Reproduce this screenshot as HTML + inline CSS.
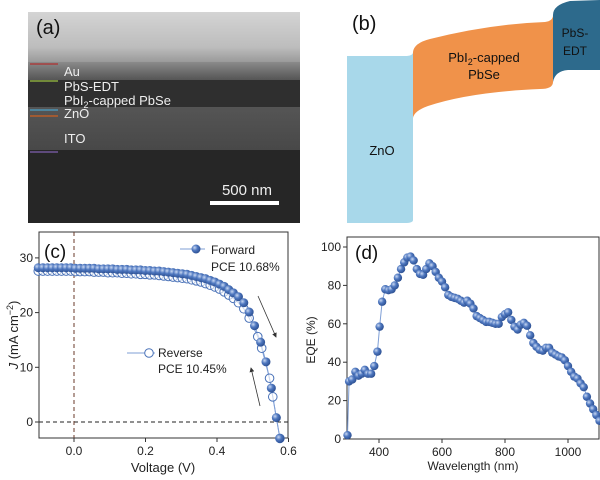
<!DOCTYPE html>
<html><head><meta charset="utf-8"><style>
html,body{margin:0;padding:0;background:#fff;}
svg{display:block;font-family:"Liberation Sans",Arial,sans-serif;}
</style></head><body>
<svg id="fig" width="600" height="480" viewBox="0 0 600 480">
<defs>
<linearGradient id="semTop" x1="0" y1="0" x2="0" y2="1"><stop offset="0" stop-color="#d4d4d4"/><stop offset="0.7" stop-color="#bdbdbd"/><stop offset="1" stop-color="#9a9a9a"/></linearGradient>
<linearGradient id="semAu" x1="0" y1="0" x2="0" y2="1"><stop offset="0" stop-color="#8a8a8a"/><stop offset="1" stop-color="#555"/></linearGradient>
<linearGradient id="semMid" x1="0" y1="0" x2="0" y2="1"><stop offset="0" stop-color="#555"/><stop offset="1" stop-color="#484848"/></linearGradient>
<radialGradient id="ball" cx="0.35" cy="0.35" r="0.7"><stop offset="0" stop-color="#c9d8f2"/><stop offset="0.45" stop-color="#4f78c0"/><stop offset="1" stop-color="#2a4d8f"/></radialGradient>
<marker id="ah" markerWidth="6" markerHeight="6" refX="5" refY="3" orient="auto"><path d="M0,0 L6,3 L0,6 z" fill="#333"/></marker>
</defs>

<!-- Panel a: SEM -->
<g>
<rect x="28" y="12" width="272" height="50" fill="url(#semTop)"/>
<rect x="28" y="62" width="272" height="18" fill="url(#semAu)"/>
<rect x="28" y="80" width="272" height="27" fill="#2f2f2f"/>
<rect x="28" y="107" width="272" height="43" fill="url(#semMid)"/>
<rect x="28" y="150" width="272" height="73" fill="#262626"/>
<text x="36" y="34" font-size="20" fill="#111">(a)</text>
<line x1="30" y1="64" x2="58" y2="64" stroke="#b03030" stroke-width="1.2"/>
<line x1="30" y1="81" x2="58" y2="81" stroke="#9bc040" stroke-width="1.2"/>
<line x1="30" y1="110" x2="58" y2="110" stroke="#4aa0c8" stroke-width="1.2"/>
<line x1="30" y1="116" x2="58" y2="116" stroke="#d06020" stroke-width="1.2"/>
<line x1="30" y1="152" x2="58" y2="152" stroke="#8060b0" stroke-width="1.2"/>
<g fill="#eee" font-size="13">
<text x="64" y="76">Au</text>
<text x="64" y="91">PbS-EDT</text>
<text x="64" y="105">PbI<tspan font-size="9" dy="3">2</tspan><tspan dy="-3">-capped PbSe</tspan></text>
<text x="64" y="118">ZnO</text>
<text x="64" y="143">ITO</text>
<text x="247" y="195" font-size="15" text-anchor="middle">500 nm</text>
</g>
<rect x="210" y="201" width="69" height="4" fill="#fff"/>
</g>

<!-- Panel b -->
<g>
<text x="352" y="30" font-size="20" fill="#111">(b)</text>
<path d="M347,56 L405,56 Q413,56 413,52 L413,220 Q413,223 405,223 L347,223 Z" fill="#a8d8ea"/>
<path d="M413,52 Q414,43 430,39 Q490,24 545,22 Q553,21 553,15 L553,82 Q553,89 540,89 Q470,92 428,106 Q414,111 413,118 Z" fill="#f0924a"/>
<path d="M553,15 Q553,5 570,1 L600,0 L600,70 L568,70 Q555,71 553,82 Z" fill="#2d6a8c"/>
<text x="382" y="155" font-size="13" text-anchor="middle" fill="#111">ZnO</text>
<text x="484" y="62" font-size="13" text-anchor="middle" fill="#111">PbI<tspan font-size="9" dy="3">2</tspan><tspan dy="-3">-capped</tspan></text>
<text x="484" y="79" font-size="13" text-anchor="middle" fill="#111">PbSe</text>
<text x="575" y="37" font-size="12" text-anchor="middle" fill="#111">PbS-</text>
<text x="575" y="55" font-size="12" text-anchor="middle" fill="#111">EDT</text>
</g>

<g id="panelC"></g>
<g id="panelD"></g>
</svg>
<script>
const NS="http://www.w3.org/2000/svg";
const fwdV=[-0.1,-0.087,-0.074,-0.061,-0.048,-0.035,-0.022,-0.009,0.004,0.017,0.03,0.043,0.056,0.069,0.082,0.095,0.108,0.121,0.134,0.147,0.16,0.173,0.186,0.199,0.212,0.225,0.238,0.251,0.264,0.277,0.29,0.303,0.316,0.329,0.342,0.355,0.368,0.381,0.394,0.407,0.42,0.433,0.446,0.46,0.475,0.49,0.505,0.522,0.537,0.552,0.566,0.576];
const fwdJ=[28.2,28.2,28.2,28.2,28.2,28.2,28.2,28.2,28.1,28.1,28.1,28.1,28.1,28.0,28.0,28.0,28.0,27.9,27.9,27.9,27.8,27.8,27.8,27.7,27.7,27.6,27.6,27.5,27.4,27.3,27.2,27.1,27.0,26.8,26.6,26.4,26.2,25.9,25.6,25.2,24.8,24.2,23.6,22.9,21.8,20.1,17.6,14.6,11.0,6.2,0.8,-3.0];
const revV=[-0.1,-0.087,-0.074,-0.061,-0.048,-0.035,-0.022,-0.009,0.004,0.017,0.03,0.043,0.056,0.069,0.082,0.095,0.108,0.121,0.134,0.147,0.16,0.173,0.186,0.199,0.212,0.225,0.238,0.251,0.264,0.277,0.29,0.303,0.316,0.329,0.342,0.355,0.368,0.381,0.394,0.407,0.42,0.433,0.446,0.46,0.475,0.49,0.514,0.525,0.547,0.556,0.576];
const revJ=[27.6,27.6,27.6,27.6,27.6,27.6,27.6,27.6,27.5,27.5,27.5,27.5,27.4,27.4,27.4,27.3,27.3,27.3,27.2,27.2,27.1,27.1,27.0,27.0,26.9,26.9,26.8,26.7,26.6,26.5,26.4,26.3,26.2,26.0,25.8,25.6,25.3,25.0,24.7,24.3,23.8,23.2,22.6,21.8,20.7,19.0,15.6,13.5,8.0,4.6,-3.0];
const jvXTicks=[0.0,0.2,0.4,0.6];
const jvXLabels=["0.0","0.2","0.4","0.6"];
const jvYTicks=[0,10,20,30];
const wl=[300,305,315,325,335,345,355,365,375,385,395,402,410,420,430,440,450,460,470,480,490,500,510,520,530,540,550,560,570,580,590,600,610,620,630,640,650,660,670,680,690,700,710,720,730,740,750,760,770,780,790,800,810,820,830,840,850,860,870,880,890,900,910,920,930,940,950,960,970,980,990,1000,1010,1020,1030,1040,1050,1060,1070,1080,1090,1100];
const eqe=[2,30,31,35,33,34,36,34,34,38,45.5,58.5,71.5,78,77.5,78,80,84,88.5,92,94.5,95,93,88.5,86,85.5,88.5,91.5,90,87,84,82,79,75,74,73.5,73,72,71,72,70.5,68,64,63,62,61,61,60.5,60,60,63.5,65,66,62,58.5,57,59.5,60.5,59,54,50,48,46.5,46,47.5,47.5,45,44,43,42.5,41,38,35,32.5,31.5,29,27,22,18.5,15.5,12.5,9.5];
const eqeXTicks=[400,600,800,1000];
const eqeYTicks=[0,20,40,60,80,100];

function mk(parent,tag,attrs){const e=document.createElementNS(NS,tag);for(const k in attrs)e.setAttribute(k,attrs[k]);parent.appendChild(e);return e;}

// Panel C
const C=document.getElementById('panelC');
const cx0=39,cx1=288,cy0=232,cy1=438;
const vx=v=>74+v*357.5;
const jy=j=>422-j*5.47;
mk(C,'rect',{x:cx0,y:cy0,width:cx1-cx0,height:cy1-cy0,fill:'none',stroke:'#333','stroke-width':1});
mk(C,'line',{x1:cx0,y1:jy(0),x2:cx1,y2:jy(0),stroke:'#222','stroke-dasharray':'4,3','stroke-width':1});
mk(C,'line',{x1:vx(0),y1:cy0,x2:vx(0),y2:cy1,stroke:'#6a3a2a','stroke-dasharray':'4,3','stroke-width':1});
jvXTicks.forEach((t,i)=>{const x=vx(t);
 mk(C,'line',{x1:x,y1:cy1,x2:x,y2:cy1+4,stroke:'#333'});
 const tx=mk(C,'text',{x:x,y:cy1+17,'font-size':12,'text-anchor':'middle',fill:'#222'});tx.textContent=jvXLabels[i];
 
 });
jvYTicks.forEach(t=>{const y=jy(t);
 mk(C,'line',{x1:cx0-4,y1:y,x2:cx0,y2:y,stroke:'#333'});
 const tx=mk(C,'text',{x:cx0-6,y:y+4,'font-size':12,'text-anchor':'end',fill:'#222'});tx.textContent=t;
 
 });
mk(C,'polyline',{points:revV.map((v,i)=>vx(v)+','+jy(revJ[i])).join(' '),fill:'none',stroke:'#7f9fd6','stroke-width':1});
mk(C,'polyline',{points:fwdV.map((v,i)=>vx(v)+','+jy(fwdJ[i])).join(' '),fill:'none',stroke:'#7f9fd6','stroke-width':1});
revV.forEach((v,i)=>{const c=mk(C,'circle',{cx:vx(v),cy:jy(revJ[i]),r:4.3,fill:'#fff','fill-opacity':0.6,stroke:'#4a72b8','stroke-width':1});
 
 });
fwdV.forEach((v,i)=>{const c=mk(C,'circle',{cx:vx(v),cy:jy(fwdJ[i]),r:4.5,fill:'url(#ball)'});
 
 });
mk(C,'line',{x1:180,y1:249,x2:205,y2:249,stroke:'#7f9fd6'});
mk(C,'circle',{cx:196,cy:249,r:4.5,fill:'url(#ball)'});
let t;
t=mk(C,'text',{x:211,y:254,'font-size':12,fill:'#222'});t.textContent='Forward';
t=mk(C,'text',{x:211,y:271,'font-size':12,fill:'#222'});t.textContent='PCE 10.68%';
mk(C,'line',{x1:127,y1:353,x2:155,y2:353,stroke:'#7f9fd6'});
mk(C,'circle',{cx:149,cy:353,r:4.3,fill:'#fff',stroke:'#4a72b8'});
t=mk(C,'text',{x:158,y:357,'font-size':12,fill:'#222'});t.textContent='Reverse';
t=mk(C,'text',{x:158,y:373,'font-size':12,fill:'#222'});t.textContent='PCE 10.45%';
mk(C,'line',{x1:258,y1:296,x2:276,y2:337,stroke:'#333','stroke-width':0.8,'marker-end':'url(#ah)'});
mk(C,'line',{x1:260,y1:406,x2:251,y2:368,stroke:'#333','stroke-width':0.8,'marker-end':'url(#ah)'});
t=mk(C,'text',{x:44,y:258,'font-size':19,fill:'#111'});t.textContent='(c)';


t=mk(C,'text',{x:163,y:472,'font-size':13,'text-anchor':'middle',fill:'#222'});t.textContent='Voltage (V)';


t=mk(C,'text',{x:0,y:0,'font-size':13,'text-anchor':'middle',fill:'#222',transform:'translate(18,335) rotate(-90)'});
t.innerHTML='<tspan font-style="italic">J</tspan> (mA cm<tspan font-size="9" dy="-5">−2</tspan><tspan dy="5">)</tspan>';



// Panel D
const D=document.getElementById('panelD');
const dx0=347,dx1=599,dy0=237,dy1=439;
const wx=w=>379+(w-400)*0.315;
const ey=e=>439-e*1.92;
mk(D,'rect',{x:dx0,y:dy0,width:dx1-dx0,height:dy1-dy0,fill:'none',stroke:'#333','stroke-width':1});
eqeXTicks.forEach(v=>{const x=wx(v);
 mk(D,'line',{x1:x,y1:dy1,x2:x,y2:dy1+4,stroke:'#333'});
 const tx=mk(D,'text',{x:x,y:dy1+17,'font-size':12,'text-anchor':'middle',fill:'#222'});tx.textContent=v;
 
 });
eqeYTicks.forEach(v=>{const y=ey(v);
 mk(D,'line',{x1:dx0-4,y1:y,x2:dx0,y2:y,stroke:'#333'});
 const tx=mk(D,'text',{x:dx0-6,y:y+4,'font-size':12,'text-anchor':'end',fill:'#222'});tx.textContent=v;
 
 });
mk(D,'polyline',{points:wl.map((w,i)=>wx(w)+','+ey(eqe[i])).join(' '),fill:'none',stroke:'#7f9fd6','stroke-width':1});
wl.forEach((w,i)=>{const c=mk(D,'circle',{cx:wx(w),cy:ey(eqe[i]),r:4.2,fill:'url(#ball)'});
 
 });
t=mk(D,'text',{x:355,y:259,'font-size':19,fill:'#111'});t.textContent='(d)';


t=mk(D,'text',{x:473,y:470,'font-size':12,'text-anchor':'middle',fill:'#222'});t.textContent='Wavelength (nm)';


t=mk(D,'text',{x:0,y:0,'font-size':12,'text-anchor':'middle',fill:'#222',transform:'translate(315,340) rotate(-90)'});t.textContent='EQE (%)';


</script>
</body></html>
